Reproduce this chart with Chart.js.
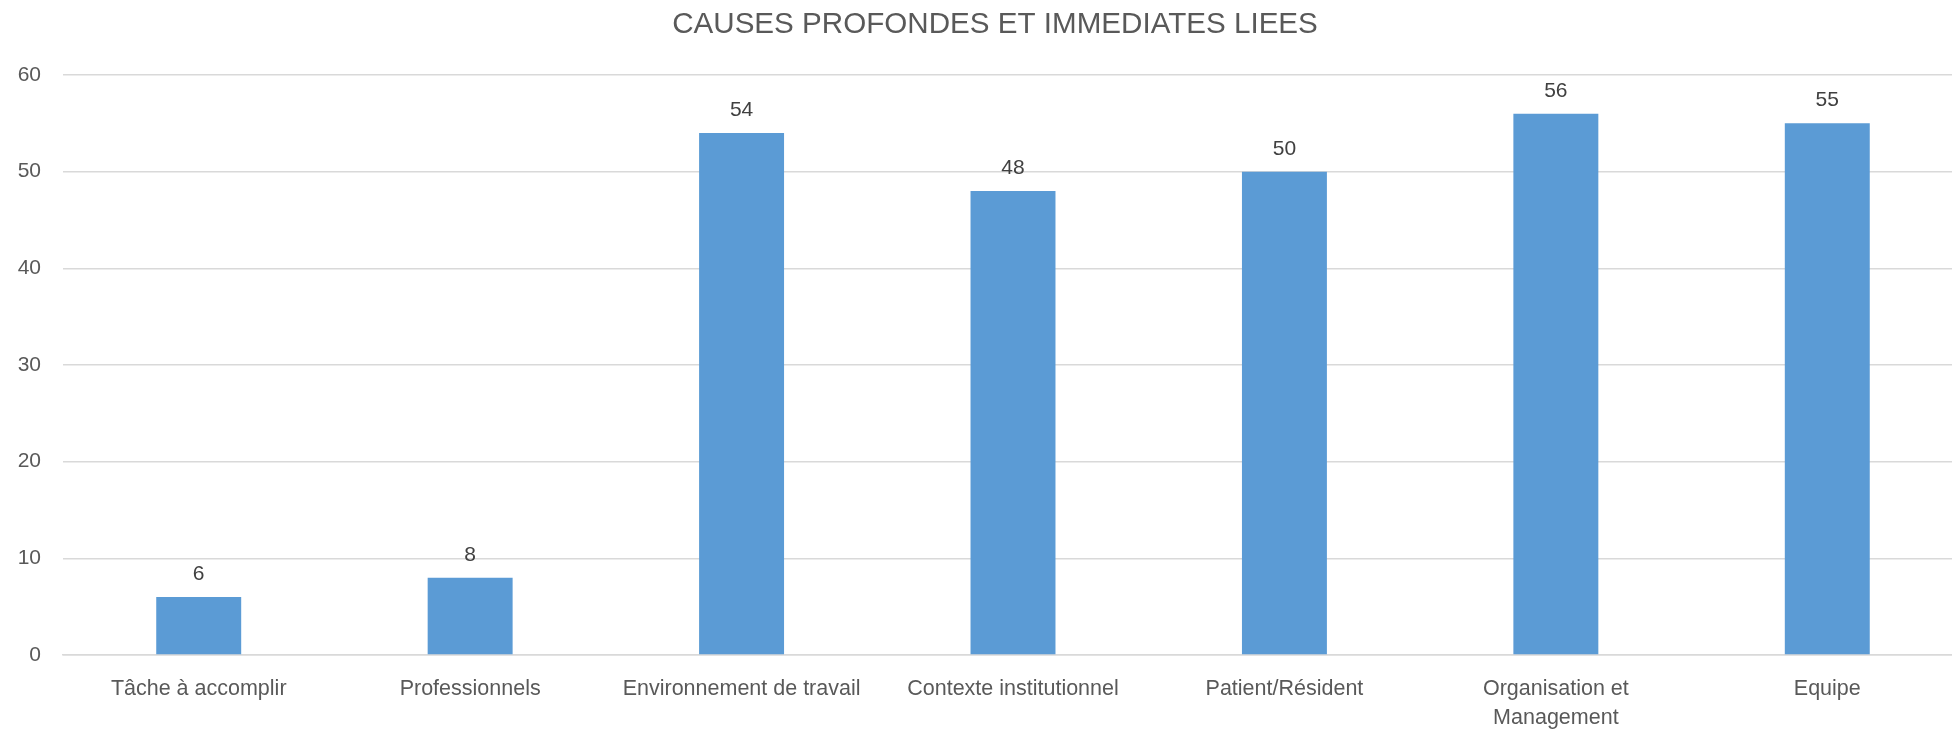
<!DOCTYPE html>
<html>
<head>
<meta charset="utf-8">
<script src="https://cdn.jsdelivr.net/npm/chart.js@4"></script>
<style>
  html, body { margin: 0; padding: 0; background: #ffffff; overflow: hidden; }
  #wrap { width: 1990px; height: 730px; }
</style>
</head>
<body>
<div id="wrap"><canvas id="barChart" width="1990" height="730"></canvas></div>
<script>
// données du graphique
const categories = [
  "Tâche à accomplir",
  "Professionnels",
  "Environnement de travail",
  "Contexte institutionnel",
  "Patient/Résident",
  ["Organisation et", "Management"],
  "Equipe"
];
const values = [6, 8, 54, 48, 50, 56, 55];
const yTicks = [0, 10, 20, 30, 40, 50, 60];
const chartTitle = "CAUSES PROFONDES ET IMMEDIATES LIEES";

const fontFamily = "'Liberation Sans', Arial, sans-serif";

// titre centré sur toute la largeur du graphique
const chartTitlePlugin = {
  id: "chartTitlePlugin",
  afterDraw(chart) {
    const ctx = chart.ctx;
    ctx.save();
    ctx.fillStyle = "#595959";
    ctx.font = "29.6px " + fontFamily;
    ctx.textAlign = "center";
    ctx.textBaseline = "alphabetic";
    ctx.fillText(chartTitle, chart.width / 2, 33);
    ctx.restore();
  }
};

// étiquettes de valeur au-dessus des barres
const valueLabels = {
  id: "valueLabels",
  afterDatasetsDraw(chart) {
    const ctx = chart.ctx;
    const meta = chart.getDatasetMeta(0);
    ctx.save();
    ctx.fillStyle = "#404040";
    ctx.font = "21px " + fontFamily;
    ctx.textAlign = "center";
    ctx.textBaseline = "alphabetic";
    meta.data.forEach((bar, i) => {
      ctx.fillText(String(values[i]), bar.x, bar.y - 17);
    });
    ctx.restore();
  }
};

const ctx = document.getElementById("barChart").getContext("2d");

new Chart(ctx, {
  type: "bar",
  data: {
    labels: categories,
    datasets: [{
      data: values,
      backgroundColor: "#5b9bd5",
      borderWidth: 0,
      barPercentage: 0.313,
      categoryPercentage: 1
    }]
  },
  options: {
    responsive: false,
    animation: false,
    layout: {
      padding: { top: 75, bottom: 0, left: 0, right: 27 }
    },
    plugins: {
      legend: { display: false },
      tooltip: { enabled: false },
      title: { display: false }
    },
    scales: {
      x: {
        grid: { display: false },
        border: { color: "#d9d9d9", width: 1.5 },
        ticks: {
          color: "#595959",
          font: { family: fontFamily, size: 21.5, lineHeight: 1.33 },
          maxRotation: 0,
          minRotation: 0,
          autoSkip: false,
          padding: 12
        },
        afterFit(scale) { scale.height = 75; }
      },
      y: {
        min: 0,
        max: 60,
        afterBuildTicks(scale) {
          scale.ticks = yTicks.map((v) => ({ value: v }));
        },
        grid: { color: "#d9d9d9", lineWidth: 1.5, drawTicks: false },
        border: { display: false },
        ticks: {
          color: "#595959",
          font: { family: fontFamily, size: 21 },
          padding: 22
        },
        afterFit(scale) { scale.width = 63; }
      }
    }
  },
  plugins: [valueLabels, chartTitlePlugin]
});
</script>
</body>
</html>
